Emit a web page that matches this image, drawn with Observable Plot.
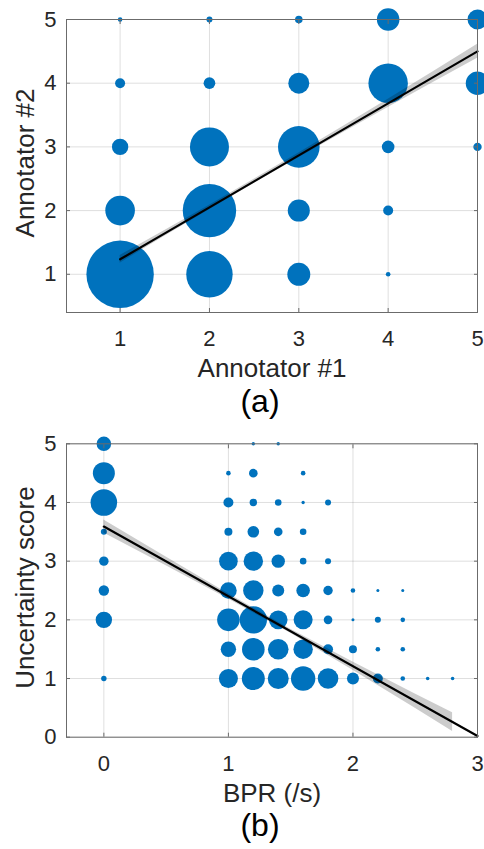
<!DOCTYPE html>
<html><head><meta charset="utf-8">
<script src="https://cdn.jsdelivr.net/npm/d3@7"></script>
<script src="https://cdn.jsdelivr.net/npm/@observablehq/plot@0.6"></script>
<style>
body{margin:0;background:#fff;}
#chart{width:484px;position:relative;}
#chart svg{display:block;overflow:visible;}
</style>
</head><body><div id="chart"></div>
<script>
// ---------- (a) Annotator agreement ----------
const ann1 = [1,1,1,1,1, 2,2,2,2,2, 3,3,3,3,3, 4,4,4,4,4, 5,5,5];
const ann2 = [1,2,3,4,5, 1,2,3,4,5, 1,2,3,4,5, 1,2,3,4,5, 3,4,5];
const annCount = [100,19.3,5.9,2.2,0.47, 47.4,62.8,33.5,3.0,0.79, 11.6,10.7,38.1,9.7,1.27, 0.47,2.2,3.5,34.2,11.2, 1.55,12.1,8.8];
const annFitX = [1,1.5,2,2.5,3,3.5,4,4.5,5];
const annFitY = [1.235,1.643,2.05,2.459,2.867,3.275,3.683,4.091,4.5];
const annFitLo = [1.175,1.598,2.015,2.426,2.83,3.225,3.618,4.006,4.39];
const annFitHi = [1.295,1.688,2.085,2.492,2.904,3.325,3.748,4.176,4.61];
const annTicks = [1,2,3,4,5];

// ---------- (b) BPR vs uncertainty ----------
const bprX = [0,0,0,0,0,0,0,0,
  1,1,1,1,1,1,1,1,
  1.2,1.2,1.2,1.2,1.2,1.2,1.2,1.2,1.2,
  1.4,1.4,1.4,1.4,1.4,1.4,1.4,1.4,
  1.6,1.6,1.6,1.6,1.6,1.6,1.6,1.6,
  1.8,1.8,1.8,1.8,1.8,1.8,
  2.0,2.0,2.0,2.0,
  2.2,2.2,2.2,2.2,
  2.4,2.4,2.4,2.4,
  2.6,2.8];
const uncY = [5,4.5,4,3.5,3,2.5,2,1,
  4.5,4,3.5,3,2.5,2,1.5,1,
  5,4.5,4,3.5,3,2.5,2,1.5,1,
  5,4,3.5,3,2.5,2,1.5,1,
  4.5,4,3.5,3,2.5,2,1.5,1,
  4,3,2.5,2,1.5,1,
  2.5,2,1.5,1,
  2.5,2,1.5,1,
  2.5,2,1.5,1,
  1,1];
const bprCount = [28.4,64.5,94.2,4.8,11.8,14.4,35.8,3.9,
  2.8,13.3,8.5,46.1,36.7,68,31.6,48.1,
  1.5,9.9,7.3,17.9,50.1,55.4,100,68,70.5,
  1.5,5.8,9.9,23.9,19.2,46.1,56.5,58.8,
  2.8,1.5,5.8,5.8,24.6,48.1,50.1,79.3,
  4.8,4.8,11.8,9.9,13.3,56.5,
  2.8,1.2,8.5,19.2,
  1.2,4.8,2.8,13.3,
  1.2,2.8,2.8,2.8,
  1.7,1.7];
const bprLineX = [0,3];
const bprLineY = [3.59,0.02];
const bprBandX = [0,0.5,1,1.5,2,2.5,2.8];
const bprBandLo = [3.48,2.92,2.355,1.77,1.14,0.495,0.098];
const bprBandHi = [3.70,3.07,2.445,1.84,1.28,0.735,0.418];
const bprXTicks = [0,1,2,3];
const bprYTicks = [0,1,2,3,4,5];

const BLUE = "#0072BD";
const TXT = "#262626";
const BOX = "#6b6b6b";
const FONT = "'Liberation Sans', Arial, Helvetica, sans-serif";

function frameMarks(xt, yt) {
  return [
    Plot.gridX(xt, {stroke: TXT, strokeOpacity: 0.15}),
    Plot.gridY(yt, {stroke: TXT, strokeOpacity: 0.15})
  ];
}
function axisMarks(xt, yt) {
  return [
    Plot.frame({stroke: BOX}),
    Plot.axisX(xt, {anchor: "bottom", tickSize: -4, fill: "none", stroke: BOX, label: null}),
    Plot.axisX(xt, {anchor: "top", tickSize: -4, fill: "none", stroke: BOX, label: null}),
    Plot.axisY(yt, {anchor: "left", tickSize: -4, fill: "none", stroke: BOX, label: null}),
    Plot.axisY(yt, {anchor: "right", tickSize: -4, fill: "none", stroke: BOX, label: null}),
    Plot.text(xt, {x: d => d, text: d => String(d), frameAnchor: "bottom", lineAnchor: "top", dy: 18, fontSize: 22, fill: TXT}),
    Plot.text(yt, {y: d => d, text: d => String(d), frameAnchor: "left", textAnchor: "end", dx: -10, fontSize: 22, fill: TXT})
  ];
}
function labelMarks(xl, yl, tag) {
  return [
    Plot.text([xl], {text: d => d, frameAnchor: "bottom", lineAnchor: "top", dy: 46, fontSize: 26, fill: TXT}),
    Plot.text([yl], {text: d => d, frameAnchor: "left", textAnchor: "middle", rotate: -90, lineAnchor: "bottom", dx: -33, dy: -3, fontSize: 26, fill: TXT}),
    Plot.text([tag], {text: d => d, frameAnchor: "bottom", lineAnchor: "bottom", dy: 99, dx: -12, fontSize: 32, fill: "#000"})
  ];
}

const annData = ann1.map((x, i) => ({x, y: ann2[i], n: annCount[i]}));
const annFit = annFitX.map((x, i) => ({x, y: annFitY[i], lo: annFitLo[i], hi: annFitHi[i]}));

const plotA = Plot.plot({
  width: 484, height: 440,
  marginLeft: 66, marginRight: 7, marginTop: 19, marginBottom: 128,
  style: {fontFamily: FONT, background: "transparent", overflow: "visible"},
  x: {domain: [0.4, 5], axis: null},
  y: {domain: [0.4, 5], axis: null},
  r: {type: "sqrt", domain: [0, 100], range: [0, 33.7]},
  marks: [
    ...frameMarks(annTicks, annTicks),
    Plot.dot(annData, {x: "x", y: "y", r: "n", fill: BLUE, stroke: "none"}),
    Plot.areaY(annFit, {x: "x", y1: "lo", y2: "hi", fill: "#000", fillOpacity: 0.2}),
    Plot.line(annFit, {x: "x", y: "y", stroke: "#000", strokeWidth: 2.2}),
    ...axisMarks(annTicks, annTicks),
    ...labelMarks("Annotator #1", "Annotator #2", "(a)")
  ]
});

const bprData = bprX.map((x, i) => ({x, y: uncY[i], n: bprCount[i]}));
const bprBand = bprBandX.map((x, i) => ({x, lo: bprBandLo[i], hi: bprBandHi[i]}));
const bprLine = bprLineX.map((x, i) => ({x, y: bprLineY[i]}));

const plotB = Plot.plot({
  width: 484, height: 409,
  marginLeft: 66, marginRight: 7, marginTop: 3.3, marginBottom: 112.3,
  style: {fontFamily: FONT, background: "transparent", overflow: "visible"},
  x: {domain: [-0.3, 3], axis: null},
  y: {domain: [0, 5], axis: null},
  r: {type: "sqrt", domain: [0, 100], range: [0, 13.7]},
  marks: [
    ...frameMarks(bprXTicks, bprYTicks),
    Plot.dot(bprData, {x: "x", y: "y", r: "n", fill: BLUE, stroke: "none"}),
    Plot.areaY(bprBand, {x: "x", y1: "lo", y2: "hi", fill: "#000", fillOpacity: 0.2}),
    Plot.line(bprLine, {x: "x", y: "y", stroke: "#000", strokeWidth: 2.2}),
    ...axisMarks(bprXTicks, bprYTicks),
    ...labelMarks("BPR (/s)", "Uncertainty score", "(b)")
  ]
});

const root = document.getElementById("chart");
root.appendChild(plotA);
root.appendChild(plotB);
</script></body></html>
